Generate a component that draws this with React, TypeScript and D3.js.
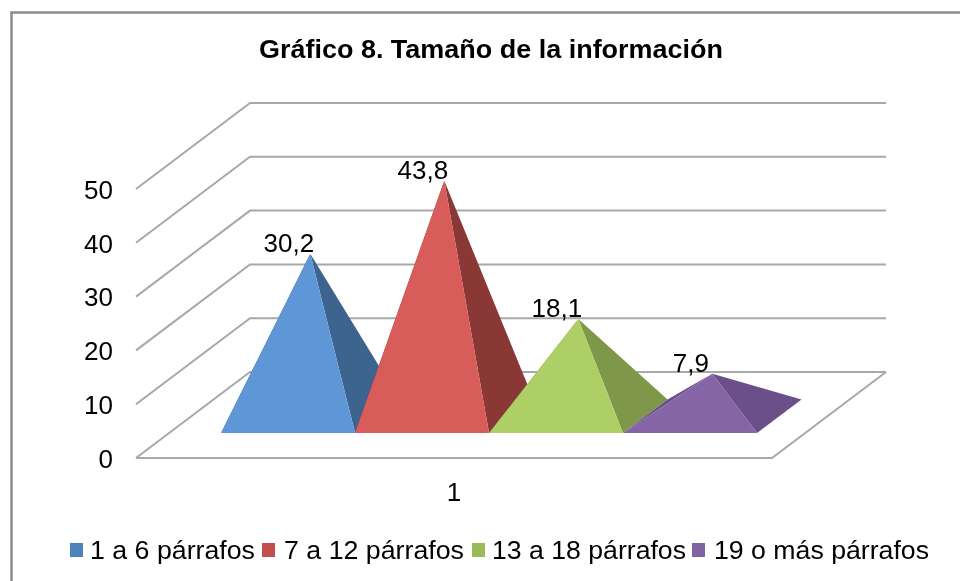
import React, { useEffect, useRef } from 'react';
import * as d3 from 'd3';

const title = 'Gráfico 8. Tamaño de la información';
const categories = ['1'];
const seriesNames = ['1 a 6 párrafos', '7 a 12 párrafos', '13 a 18 párrafos', '19 o más párrafos'];
const seriesValues = [30.2, 43.8, 18.1, 7.9];
const valueLabels = ['30,2', '43,8', '18,1', '7,9'];
const axisTicks = [0, 10, 20, 30, 40, 50];
const frontColors = ['#5f96d8', '#d75c5a', '#adcf66', '#8565a6'];
const sideColors = ['#3e638f', '#8a3735', '#7e9748', '#6a5088'];
const legendColors = ['#4f81bd', '#c0504d', '#9bbb59', '#8064a2'];

// legend positions [swatch x, text x, text width]
const legendLayout = [
  [70, 90, 165],
  [262, 284, 180],
  [472, 492, 194],
  [692, 714, 215],
];

const width = 960;
const height = 581;
const font = '"Liberation Sans", Arial, sans-serif';

// oblique projection of the 3d box
const depthX = 114;
const depthY = 86;
const baseFront = 0.29;
const baseBack = 0.68;
const baseMid = (baseFront + baseBack) / 2;

const App = () => {
  const svgRef = useRef<SVGSVGElement>(null);

  useEffect(() => {
    const svg = d3.select(svgRef.current);
    svg.selectAll('*').remove();

    // the source is a soft, upscaled image
    svg.append('defs')
      .append('filter')
      .attr('id', 'soft')
      .append('feGaussianBlur')
      .attr('stdDeviation', 0.45);
    const root = svg.append('g').attr('filter', 'url(#soft)');

    root.append('rect')
      .attr('width', width)
      .attr('height', height)
      .attr('fill', '#fff');

    const yScale = d3.scaleLinear().domain([0, 50]).range([458, 189]);
    const xCat = d3.scaleBand().domain(categories).range([136, 772]);
    const xSeries = d3.scaleBand().domain(seriesNames).range([188, 724]);

    const project = (x: number, v: number, t: number): [number, number] => [
      x + depthX * t,
      yScale(v) - depthY * t,
    ];

    // frame, only top and left edges show
    root.append('path')
      .attr('d', `M11.5,581V12.5H${width}`)
      .attr('fill', 'none')
      .attr('stroke', '#8c8c8c')
      .attr('stroke-width', 2.5);

    root.append('text')
      .attr('x', 491)
      .attr('y', 58)
      .attr('text-anchor', 'middle')
      .attr('font-family', font)
      .attr('font-weight', 'bold')
      .attr('font-size', 25)
      .attr('textLength', 464)
      .attr('lengthAdjust', 'spacingAndGlyphs')
      .attr('fill', '#000')
      .text(title);

    // walls
    const grid = root.append('g')
      .attr('fill', 'none')
      .attr('stroke', '#a8a8a8')
      .attr('stroke-width', 2);
    const left = xCat.range()[0];
    const right = xCat.range()[1];
    axisTicks.forEach(tick => {
      const a = project(left, tick, 0);
      const b = project(left, tick, 1);
      const c = project(right, tick, 1);
      grid.append('path').attr('d', d3.line()([a, b, c]));
    });
    grid.append('path').attr('d', d3.line()([
      project(left, 0, 0),
      project(right, 0, 0),
      project(right, 0, 1),
    ]));

    const axis = d3.axisLeft(yScale)
      .tickValues(axisTicks)
      .tickSize(0)
      .tickPadding(23);
    const axisG = root.append('g')
      .attr('transform', `translate(${left},1)`)
      .call(axis);
    axisG.select('.domain').remove();
    axisG.selectAll('text')
      .attr('font-family', font)
      .attr('font-size', 26)
      .attr('fill', '#000');

    // pyramids, left to right so each one covers the previous
    seriesNames.forEach((name, i) => {
      const x0 = xSeries(name) as number;
      const x1 = x0 + xSeries.bandwidth();
      const apex = project((x0 + x1) / 2, seriesValues[i], baseMid);
      const frontL = project(x0, 0, baseFront);
      const frontR = project(x1, 0, baseFront);
      const backL = project(x0, 0, baseBack);
      const backR = project(x1, 0, baseBack);
      const g = root.append('g');
      const face = (pts: [number, number][], fill: string) =>
        g.append('path')
          .attr('d', d3.line()(pts) + 'Z')
          .attr('fill', fill);
      face([frontL, backL, apex], sideColors[i]);
      face([frontR, backR, apex], sideColors[i]);
      face([frontL, frontR, apex], frontColors[i]);
    });

    // labels go above all the pyramids
    seriesNames.forEach((name, i) => {
      const x0 = xSeries(name) as number;
      const apex = project(x0 + xSeries.bandwidth() / 2, seriesValues[i], baseMid);
      root.append('text')
        .attr('x', apex[0] - 21.5)
        .attr('y', apex[1] - 2)
        .attr('text-anchor', 'middle')
        .attr('font-family', font)
        .attr('font-size', 26)
        .attr('fill', '#000')
        .text(valueLabels[i]);
    });

    // category label
    root.selectAll('.cat')
      .data(categories)
      .enter()
      .append('text')
      .attr('class', 'cat')
      .attr('x', d => (xCat(d) as number) + xCat.bandwidth() / 2)
      .attr('y', 501)
      .attr('text-anchor', 'middle')
      .attr('font-family', font)
      .attr('font-size', 26)
      .attr('fill', '#000')
      .text(d => d);

    // legend
    seriesNames.forEach((name, i) => {
      const [sx, tx, tw] = legendLayout[i];
      root.append('rect')
        .attr('x', sx)
        .attr('y', 543)
        .attr('width', 13)
        .attr('height', 14)
        .attr('fill', legendColors[i]);
      root.append('text')
        .attr('x', tx)
        .attr('y', 559)
        .attr('font-family', font)
        .attr('font-size', 26)
        .attr('textLength', tw)
        .attr('lengthAdjust', 'spacingAndGlyphs')
        .attr('fill', '#000')
        .text(name);
    });
  }, []);

  return (
    <svg
      ref={svgRef}
      width={width}
      height={height}
      style={{ position: 'absolute', top: 0, left: 0, display: 'block', background: '#fff' }}
    ></svg>
  );
};

export default App;
